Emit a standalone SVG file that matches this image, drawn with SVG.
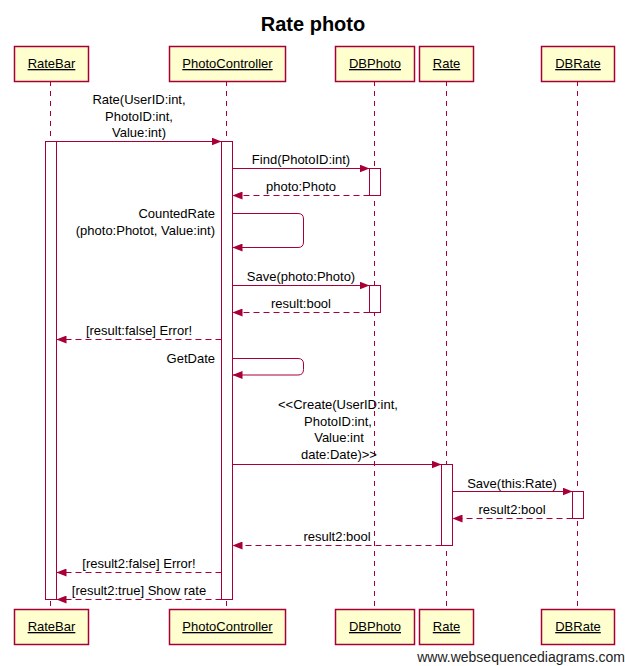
<svg xmlns="http://www.w3.org/2000/svg" width="625" height="666" viewBox="0 0 625 666">
<defs>
<style>
text{font-family:"Liberation Sans",Arial,sans-serif;font-size:13px;fill:#000}
.box{fill:#FEFECE;stroke:#A80036;stroke-width:1.5}
.name{text-anchor:middle;text-decoration:underline}
.life{stroke:#A80036;stroke-width:1;stroke-dasharray:5,5;fill:none}
.act{fill:#FFFFFF;stroke:#A80036;stroke-width:1}
.msg{stroke:#A80036;stroke-width:1;fill:none;marker-end:url(#ah)}
.ret{stroke:#A80036;stroke-width:1;fill:none;stroke-dasharray:6,4;marker-end:url(#ah)}
.c{text-anchor:middle}
.r{text-anchor:end}
</style>
<marker id="ah" viewBox="0 0 10 8" refX="10" refY="4" markerWidth="10" markerHeight="8" markerUnits="userSpaceOnUse" orient="auto">
<path d="M0,0 L10,4 L0,8 Z" fill="#A80036"/>
</marker>
</defs>
<rect width="625" height="666" fill="#FFFFFF"/>
<text x="313" y="31" style="font-size:20px;font-weight:bold" class="c">Rate photo</text>

<g id="lifelines">
<line class="life" x1="50.5" y1="81" x2="50.5" y2="609"/>
<line class="life" x1="226.5" y1="81" x2="226.5" y2="609"/>
<line class="life" x1="374.5" y1="81" x2="374.5" y2="609"/>
<line class="life" x1="446.5" y1="81" x2="446.5" y2="609"/>
<line class="life" x1="577.5" y1="81" x2="577.5" y2="609"/>
</g>

<g id="activations">
<rect class="act" x="45.5" y="141.5" width="11" height="458"/>
<rect class="act" x="221.5" y="141.5" width="11" height="458"/>
<rect class="act" x="369.5" y="168.5" width="11" height="27"/>
<rect class="act" x="369.5" y="285.5" width="11" height="27"/>
<rect class="act" x="441.5" y="464.5" width="11" height="81"/>
<rect class="act" x="572.5" y="491.5" width="11" height="27"/>
</g>

<g id="RateBar">
<rect class="box" x="14.5" y="46.5" width="74" height="35"/>
<text class="name" x="51.5" y="68">RateBar</text>
<rect class="box" x="14.5" y="609.5" width="74" height="35"/>
<text class="name" x="51.5" y="631">RateBar</text>
</g>
<g id="PhotoController">
<rect class="box" x="169.5" y="46.5" width="116" height="35"/>
<text class="name" x="227.5" y="68">PhotoController</text>
<rect class="box" x="169.5" y="609.5" width="116" height="35"/>
<text class="name" x="227.5" y="631">PhotoController</text>
</g>
<g id="DBPhoto">
<rect class="box" x="335.5" y="46.5" width="79" height="35"/>
<text class="name" x="375" y="68">DBPhoto</text>
<rect class="box" x="335.5" y="609.5" width="79" height="35"/>
<text class="name" x="375" y="631">DBPhoto</text>
</g>
<g id="Rate">
<rect class="box" x="419.5" y="46.5" width="54" height="35"/>
<text class="name" x="446.5" y="68">Rate</text>
<rect class="box" x="419.5" y="609.5" width="54" height="35"/>
<text class="name" x="446.5" y="631">Rate</text>
</g>
<g id="DBRate">
<rect class="box" x="541.5" y="46.5" width="73" height="35"/>
<text class="name" x="578" y="68">DBRate</text>
<rect class="box" x="541.5" y="609.5" width="73" height="35"/>
<text class="name" x="578" y="631">DBRate</text>
</g>

<g id="connectors">
<line class="msg" x1="56.5" y1="141.5" x2="221.5" y2="141.5"/>
<line class="msg" x1="232.5" y1="168.5" x2="369.5" y2="168.5"/>
<line class="ret" x1="369.5" y1="195.5" x2="232.5" y2="195.5"/>
<path class="msg" d="M232.5,213.5 H298 Q303.5,213.5 303.5,219 V242 Q303.5,247.5 298,247.5 H232.5"/>
<line class="msg" x1="232.5" y1="285.5" x2="369.5" y2="285.5"/>
<line class="ret" x1="369.5" y1="312.5" x2="232.5" y2="312.5"/>
<line class="ret" x1="221.5" y1="339.5" x2="56.5" y2="339.5"/>
<path class="msg" d="M232.5,358.5 H298 Q303.5,358.5 303.5,364 V369.5 Q303.5,375 298,375 H232.5"/>
<line class="msg" x1="232.5" y1="464.5" x2="441.5" y2="464.5"/>
<line class="msg" x1="452.5" y1="491.5" x2="572.5" y2="491.5"/>
<line class="ret" x1="572.5" y1="518.5" x2="452.5" y2="518.5"/>
<line class="ret" x1="441.5" y1="545.5" x2="232.5" y2="545.5"/>
<line class="ret" x1="221.5" y1="572.5" x2="56.5" y2="572.5"/>
<line class="ret" x1="221.5" y1="599.5" x2="56.5" y2="599.5"/>
</g>

<g id="labels">
<text class="c" x="139" y="104">Rate(UserID:int,</text>
<text class="c" x="139" y="121">PhotoID:int,</text>
<text class="c" x="139" y="137">Value:int)</text>
<text class="c" x="301" y="164">Find(PhotoID:int)</text>
<text class="c" x="301" y="191">photo:Photo</text>
<text class="r" x="215" y="218">CountedRate</text>
<text class="r" x="215" y="235">(photo:Photot, Value:int)</text>
<text class="c" x="301" y="281">Save(photo:Photo)</text>
<text class="c" x="301" y="308">result:bool</text>
<text class="c" x="139" y="335">[result:false] Error!</text>
<text class="r" x="215" y="363">GetDate</text>
<text class="c" x="338" y="409">&lt;&lt;Create(UserID:int,</text>
<text class="c" x="338" y="426">PhotoID:int,</text>
<text class="c" x="339" y="442">Value:int</text>
<text class="c" x="339" y="459">date:Date)&gt;&gt;</text>
<text class="c" x="512" y="488">Save(this:Rate)</text>
<text class="c" x="512" y="514">result2:bool</text>
<text class="c" x="337" y="541">result2:bool</text>
<text class="c" x="139" y="568">[result2:false] Error!</text>
<text class="c" x="139" y="595">[result2:true] Show rate</text>
</g>
<text x="625" y="662" style="font-size:14px;fill:#222" class="r">www.websequencediagrams.com</text>
</svg>
